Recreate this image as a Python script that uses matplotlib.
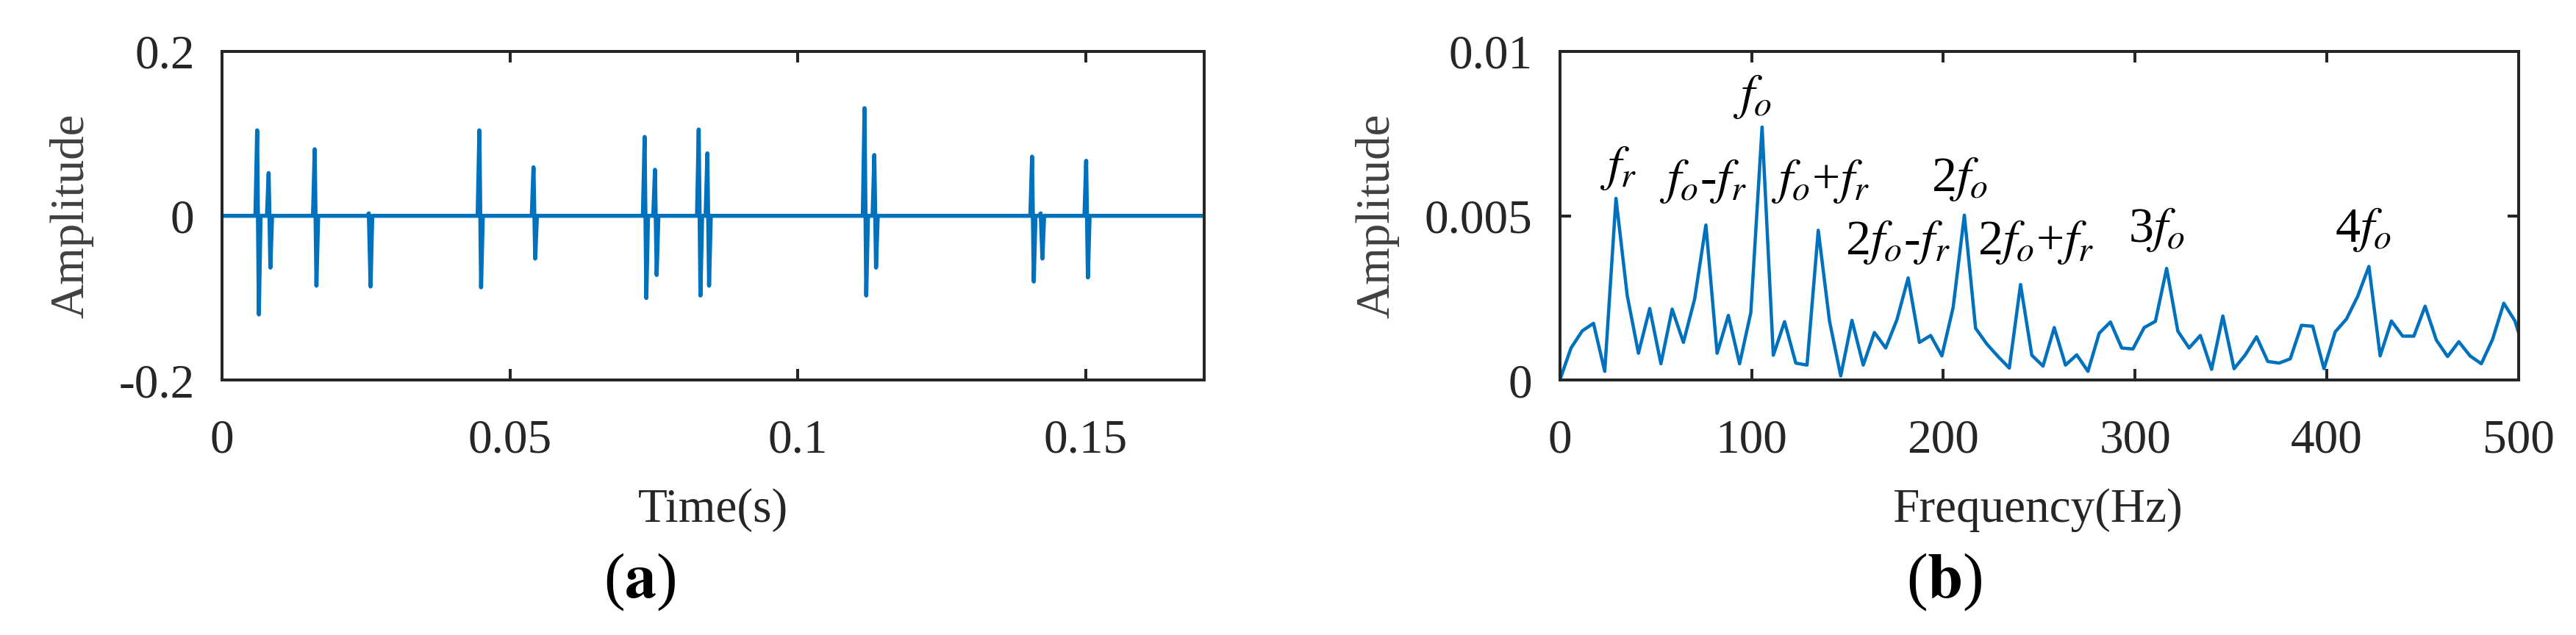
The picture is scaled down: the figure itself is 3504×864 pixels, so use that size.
import numpy as np
import matplotlib
matplotlib.use("Agg")
import matplotlib.pyplot as plt

# ---------------- data: (a) time signal ----------------
burst_times = [0.0061, 0.0081, 0.0161, 0.0255, 0.0447, 0.0541, 0.0734, 0.0752,
               0.0828, 0.0843, 0.1116, 0.1133, 0.1407, 0.1422, 0.1501]
burst_peaks = [0.104, 0.052, 0.081, 0.003, 0.104, 0.059, 0.096, 0.056,
               0.105, 0.076, 0.131, 0.074, 0.072, 0.003, 0.067]
burst_troughs = [-0.120, -0.063, -0.085, -0.086, -0.087, -0.052, -0.100, -0.072,
                 -0.097, -0.085, -0.097, -0.063, -0.080, -0.052, -0.075]
t_end = 0.1706

# ---------------- data: (b) spectrum ----------------
freq_step = 5.86  # Hz per bin
spectrum_mag_e3 = [0.00, 0.98, 1.50, 1.73, 0.27, 5.53, 2.58, 0.82, 2.18, 0.50,
                   2.16, 1.15, 2.47, 4.72, 0.82, 1.97, 0.50, 2.06, 7.70, 0.76,
                   1.78, 0.52, 0.46, 4.56, 1.80, 0.13, 1.82, 0.46, 1.45, 0.98,
                   1.84, 3.11, 1.15, 1.36, 0.74, 2.21, 5.02, 1.58, 1.10, 0.72,
                   0.37, 2.91, 0.76, 0.43, 1.60, 0.46, 0.77, 0.27, 1.43, 1.77,
                   0.98, 0.95, 1.60, 1.79, 3.40, 1.49, 0.98, 1.36, 0.33, 1.95,
                   0.35, 0.77, 1.32, 0.57, 0.52, 0.65, 1.67, 1.64, 0.35, 1.47,
                   1.86, 2.55, 3.46, 0.74, 1.80, 1.34, 1.34, 2.25, 1.22, 0.72,
                   1.17, 0.74, 0.50, 1.24, 2.34, 1.80, 0.69]

annot_labels = [r"$f_r$", r"$f_o$-$f_r$", r"$f_o$", r"$f_o$+$f_r$",
                r"2$f_o$-$f_r$", r"2$f_o$", r"2$f_o$+$f_r$", r"3$f_o$", r"4$f_o$"]
annot_freqs = [30.4, 74.5, 100.4, 136.1, 176.2, 208.4, 248.3, 311.1, 418.9]
annot_amps_e3 = [6.45, 6.06, 8.62, 6.06, 4.19, 6.13, 4.19, 4.58, 4.58]

time_ticks = [0, 0.05, 0.1, 0.15]
time_ticklabels = ["0", "0.05", "0.1", "0.15"]
amp_ticks_a = [-0.2, 0, 0.2]
amp_ticklabels_a = ["-0.2", "0", "0.2"]
freq_ticks = [0, 100, 200, 300, 400, 500]
amp_ticks_b = [0, 0.005, 0.01]
amp_ticklabels_b = ["0", "0.005", "0.01"]

# ---------------- style ----------------
plt.rcParams.update({
    "font.family": ["Liberation Serif", "DejaVu Serif"],
    "mathtext.fontset": "stix",
})
DPI = 100
px = 72.0 / DPI
line_color = "#0072BD"
dark = "#262626"
tick_fs = 47
label_fs = 47

W, H = 3504, 864
fig = plt.figure(figsize=(W / DPI, H / DPI), dpi=DPI)
fig.patch.set_facecolor("white")

top_px, bot_px = 70.0, 517.3
ax1 = fig.add_axes([302.0 / W, (H - bot_px) / H, (1638.0 - 302.0) / W, (bot_px - top_px) / H])
ax2 = fig.add_axes([2121.7 / W, (H - bot_px) / H, (3426.0 - 2121.7) / W, (bot_px - top_px) / H])

# build time signal from burst lists
dt = 0.0003
ts, ys = [0.0], [0.0]
for tb, pk, tr in zip(burst_times, burst_peaks, burst_troughs):
    ts += [tb - dt, tb, tb + dt, tb + 2 * dt]
    ys += [0.0, pk, tr, 0.0]
ts.append(t_end)
ys.append(0.0)
ax1.plot(ts, ys, color=line_color, lw=5.5 * px)
ax1.set_xlim(0, t_end)
ax1.set_ylim(-0.2, 0.2)
ax1.set_xticks(time_ticks)
ax1.set_xticklabels(time_ticklabels)
ax1.set_yticks(amp_ticks_a)
ax1.set_yticklabels(amp_ticklabels_a)

freqs = np.arange(len(spectrum_mag_e3)) * freq_step
mags = np.array(spectrum_mag_e3) * 1e-3
ax2.plot(freqs, mags, color=line_color, lw=4.5 * px)
ax2.set_xlim(0, 500)
ax2.set_ylim(0, 0.01)
ax2.set_xticks(freq_ticks)
ax2.set_xticklabels([str(v) for v in freq_ticks])
ax2.set_yticks(amp_ticks_b)
ax2.set_yticklabels(amp_ticklabels_b)

for lab, fx, fy in zip(annot_labels, annot_freqs, annot_amps_e3):
    ax2.text(fx, fy * 1e-3, lab, ha="center", va="center", fontsize=49, color="black")

for ax in (ax1, ax2):
    for sp in ax.spines.values():
        sp.set_linewidth(4 * px)
        sp.set_color(dark)
    ax.tick_params(direction="in", top=True, right=True, length=15 * px,
                   width=4 * px, color=dark, labelcolor=dark, labelsize=tick_fs)
    ax.tick_params(axis="x", pad=38)
    ax.tick_params(axis="y", pad=27)
    ax.set_ylabel("Amplitude", fontsize=label_fs, color="#404040")

ax1.yaxis.set_label_coords((127 - 302.0) / (1638.0 - 302.0), 0.5)
ax2.yaxis.set_label_coords((1903.6 - 2121.7) / (3426.0 - 2121.7), 0.5)

fig.text(970 / W, (H - 710) / H, "Time(s)", ha="center", va="baseline",
         fontsize=label_fs, color=dark)
fig.text(2771 / W, (H - 710) / H, "Frequency(Hz)", ha="center", va="baseline",
         fontsize=label_fs, color=dark)
fig.text(870 / W, (H - 813) / H, r"($\mathbf{a}$)", ha="center", va="baseline",
         fontsize=62, color="black")
fig.text(2645 / W, (H - 813) / H, r"($\mathbf{b}$)", ha="center", va="baseline",
         fontsize=62, color="black")

fig.savefig("out.png", dpi=DPI, facecolor="white")
